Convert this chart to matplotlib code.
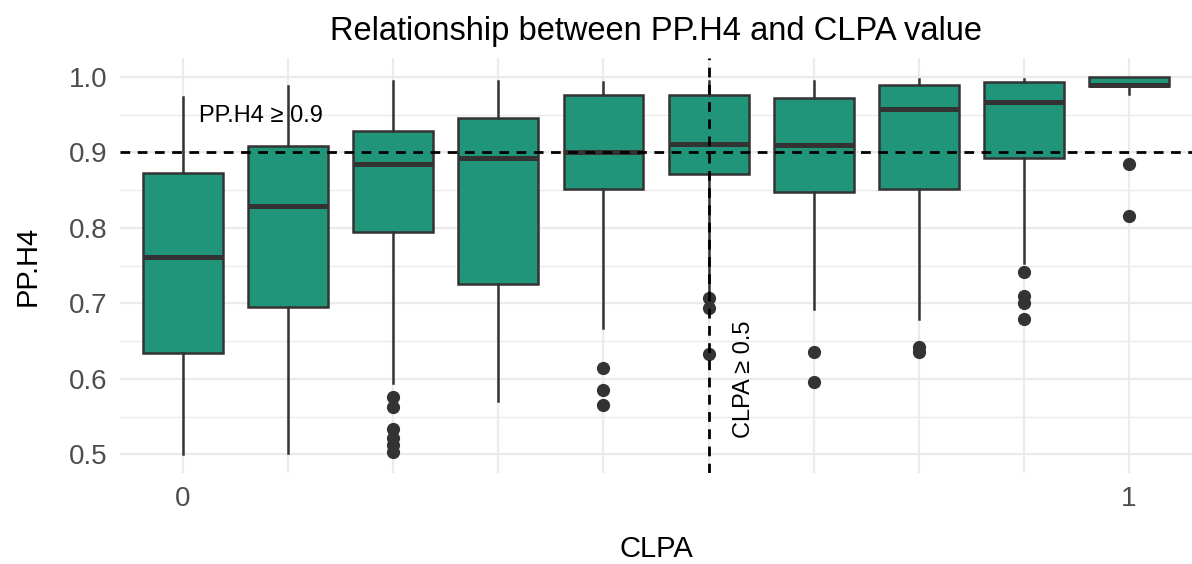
import matplotlib
matplotlib.use('Agg')
import matplotlib.pyplot as plt
from matplotlib import ticker
import numpy as np

plt.rcParams['font.family'] = ['Liberation Sans', 'DejaVu Sans']

# box statistics, one entry per CLPA bin
positions = list(range(10))
whisker_low = [0.500, 0.502, 0.595, 0.570, 0.667, 0.715, 0.692, 0.679, 0.754, 0.977]
q1 = [0.634, 0.695, 0.794, 0.726, 0.851, 0.872, 0.847, 0.852, 0.892, 0.988]
median = [0.761, 0.829, 0.885, 0.893, 0.901, 0.911, 0.910, 0.958, 0.967, 0.990]
q3 = [0.873, 0.908, 0.929, 0.946, 0.976, 0.976, 0.972, 0.990, 0.993, 1.000]
whisker_high = [0.973, 0.988, 0.994, 0.995, 0.993, 0.995, 0.995, 0.997, 0.997, 1.000]
outliers = [
    [],
    [],
    [0.576, 0.563, 0.533, 0.521, 0.513, 0.503],
    [],
    [0.615, 0.585, 0.565],
    [0.707, 0.694, 0.633],
    [0.636, 0.596],
    [0.642, 0.635],
    [0.741, 0.710, 0.700, 0.679],
    [0.885, 0.816],
]
x_tick_labels = ['0', '', '', '', '', '', '', '', '', '1']
pp_threshold = 0.9
clpa_line_pos = 5

fill = '#21957A'
edge = '#333333'

fig = plt.figure(figsize=(11.92, 5.64), dpi=100)
ax = fig.add_axes([0.1007, 0.161, 0.8993, 0.736])

stats = []
for i in positions:
    stats.append(dict(whislo=whisker_low[i], q1=q1[i], med=median[i], q3=q3[i],
                      whishi=whisker_high[i], fliers=outliers[i]))

ax.bxp(stats, positions=positions, widths=0.76, patch_artist=True, showcaps=False,
       boxprops=dict(facecolor=fill, edgecolor=edge, linewidth=1.8),
       medianprops=dict(color=edge, linewidth=3.6, solid_capstyle='butt'),
       whiskerprops=dict(color=edge, linewidth=1.8),
       flierprops=dict(marker='o', markerfacecolor=edge, markeredgecolor=edge, markersize=8.5),
       zorder=2)

# threshold lines
ax.axhline(pp_threshold, color='black', linestyle=(0, (3.5, 2.7)), linewidth=2.0, zorder=3)
ax.axvline(clpa_line_pos, color='black', linestyle=(0, (3.5, 2.7)), linewidth=2.0, zorder=3)
ax.text(0.74, 0.948, 'PP.H4 \u2265 0.9', fontsize=17, ha='center', va='center', zorder=4)
ax.text(5.34, 0.60, 'CLPA \u2265 0.5', fontsize=17, ha='center', va='center', rotation=90, zorder=4)

ax.set_xlim(-0.6, 9.6)
ax.set_ylim(0.475, 1.025)
ax.set_xticks(positions)
ax.set_xticklabels(x_tick_labels)
ax.yaxis.set_major_locator(ticker.MultipleLocator(0.1))
ax.yaxis.set_minor_locator(ticker.MultipleLocator(0.05))
ax.yaxis.set_major_formatter(ticker.FormatStrFormatter('%.1f'))
ax.tick_params(axis='both', which='both', length=0, labelsize=20, labelcolor='#4D4D4D')
ax.tick_params(axis='y', pad=9)
ax.tick_params(axis='x', pad=9)

ax.grid(which='major', color='#EBEBEB', linewidth=1.6, zorder=0)
ax.grid(which='minor', axis='y', color='#EBEBEB', linewidth=1.0, zorder=0)
ax.set_axisbelow(True)
for s in ax.spines.values():
    s.set_visible(False)

ax.set_xlabel('CLPA', fontsize=21, labelpad=17)
ax.set_ylabel('PP.H4', fontsize=21, labelpad=20)
ax.set_title('Relationship between PP.H4 and CLPA value', fontsize=23.5, pad=13)

plt.savefig('out.png', dpi=100)
